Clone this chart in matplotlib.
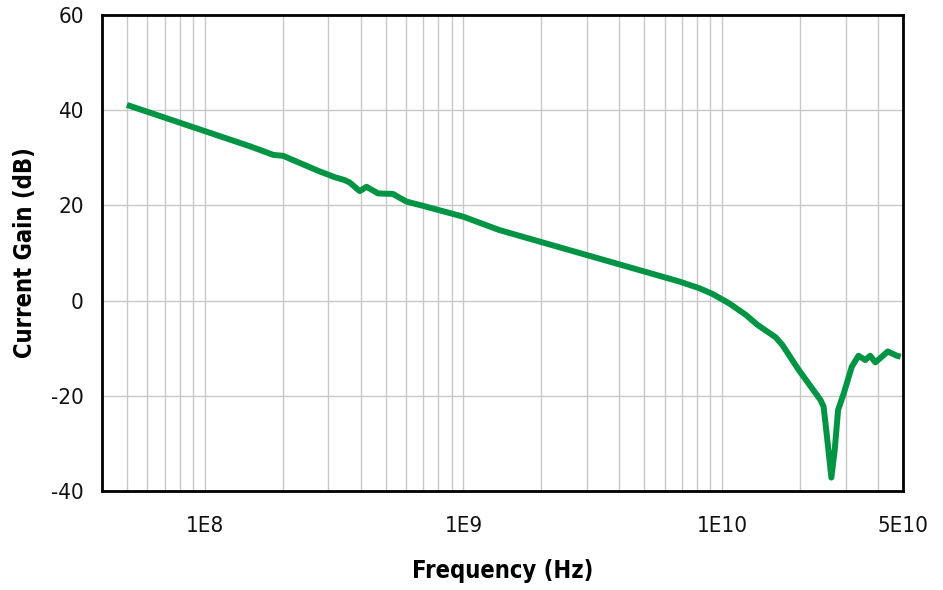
import matplotlib
matplotlib.use("Agg")
import matplotlib.pyplot as plt
from matplotlib.ticker import FixedLocator, LogLocator, NullFormatter, FixedFormatter
from matplotlib import font_manager
import numpy as np

# Data
freq_log10 = [7.699, 8.000, 8.175, 8.265, 8.303, 8.445, 8.470, 8.503, 8.541, 8.560,
              8.599, 8.625, 8.670, 8.727, 8.779, 8.843, 9.000, 9.139, 9.525, 9.834,
              9.911, 9.962, 10.027, 10.091, 10.136, 10.206, 10.232, 10.296, 10.380,
              10.392, 10.405, 10.422, 10.435, 10.448, 10.470, 10.501, 10.527, 10.553,
              10.572, 10.592, 10.611, 10.640, 10.675, 10.690]
gain_db = [41.1, 35.6, 32.4, 30.6, 30.4, 27.1, 26.6, 25.9, 25.3, 24.8,
           23.0, 23.9, 22.5, 22.4, 20.8, 19.9, 17.6, 14.8, 8.8, 4.0,
           2.6, 1.4, -0.6, -3.0, -5.1, -7.7, -9.3, -14.6, -20.9,
           -22.3, -28.6, -37.2, -31.4, -23.0, -19.5, -13.9, -11.6, -12.5,
           -11.6, -13.0, -12.1, -10.7, -11.6, -11.8]
frequency_hz = [10 ** v for v in freq_log10]

x_ticks = [1e8, 1e9, 1e10, 5e10]
x_tick_labels = ["1E8", "1E9", "1E10", "5E10"]
y_ticks = [-40, -20, 0, 20, 40, 60]
y_tick_labels = ["-40", "-20", "0", "20", "40", "60"]

names = {f.name for f in font_manager.fontManager.ttflist}
fam = []
for cand in ['Liberation Sans Narrow', 'DejaVu Sans Condensed', 'DejaVu Sans']:
    if cand in names:
        fam.append(cand)
plt.rcParams['font.family'] = fam
plt.rcParams['font.stretch'] = 'condensed'

fig = plt.figure(figsize=(9.43, 5.90), dpi=100)
ax = fig.add_axes([0.108, 0.168, 0.8496, 0.8066])

ax.plot(frequency_hz, gain_db, color='#009444', lw=4.3, solid_capstyle='butt',
        solid_joinstyle='round', zorder=3)

ax.set_xscale('log')
ax.set_xlim(4e7, 5e10)
ax.set_ylim(-40, 60)

ax.xaxis.set_major_locator(FixedLocator(x_ticks))
ax.xaxis.set_major_formatter(FixedFormatter(x_tick_labels))
ax.xaxis.set_minor_locator(LogLocator(base=10, subs=np.arange(2, 10), numticks=20))
ax.xaxis.set_minor_formatter(NullFormatter())
ax.set_yticks(y_ticks)
ax.set_yticklabels(y_tick_labels)

ax.grid(True, which='both', axis='x', color='#c8c8c8', lw=1.0, zorder=0)
ax.grid(True, which='major', axis='y', color='#c8c8c8', lw=1.0, zorder=0)
ax.set_axisbelow(True)

ax.tick_params(axis='both', which='both', length=0, labelsize=16, colors='#111111')
ax.tick_params(axis='x', pad=18)
ax.tick_params(axis='y', pad=13)

for s in ax.spines.values():
    s.set_linewidth(2.0)
    s.set_color('black')
    s.set_zorder(4)

ax.set_xlabel('Frequency (Hz)', fontsize=17, fontweight='bold', labelpad=17)
ax.set_ylabel('Current Gain (dB)', fontsize=17, fontweight='bold', labelpad=10)

fig.savefig('out.png', dpi=100)
